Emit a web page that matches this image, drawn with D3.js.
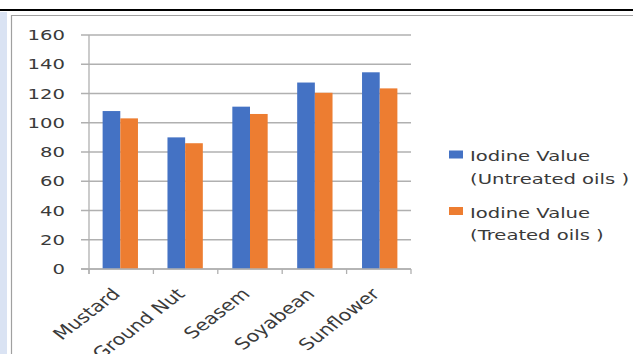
<!DOCTYPE html>
<html><head><meta charset="utf-8">
<script src="https://cdn.jsdelivr.net/npm/d3@7"></script>
<style>html,body{margin:0;padding:0;background:#fff;overflow:hidden}</style>
</head><body>
<script>
const categories = ["Mustard", "Ground Nut", "Seasem", "Soyabean", "Sunflower"];
const untreated = [108, 90, 111, 127.5, 134.5];
const treated = [103, 86, 106, 120.5, 123.5];
const yTicks = [0, 20, 40, 60, 80, 100, 120, 140, 160];
const seriesNames = [["Iodine Value", "(Untreated oils )"], ["Iodine Value", "(Treated oils )"]];
const colors = ["#4472C4", "#ED7D31"];

const W = 633, H = 354, SX = 1.4;
const svg = d3.select("body").append("svg").attr("width", W).attr("height", H);

// frame decorations
svg.append("rect").attr("x", 0).attr("y", 12).attr("width", 7).attr("height", H - 12).attr("fill", "#dae3f3");
svg.append("line").attr("x1", 0).attr("x2", W).attr("y1", 10).attr("y2", 10).attr("stroke", "#000").attr("stroke-width", 2.2);
svg.append("line").attr("x1", 11).attr("x2", W).attr("y1", 15.5).attr("y2", 15.5).attr("stroke", "#a0a0a0").attr("stroke-width", 1.2);
svg.append("line").attr("x1", 11.5).attr("x2", 11.5).attr("y1", 15).attr("y2", H).attr("stroke", "#a0a0a0").attr("stroke-width", 1.2);

const y = d3.scaleLinear().domain([0, 160]).range([269, 35]);
const x0 = d3.scaleBand().domain(categories).range([89, 411]).paddingInner(0.455).paddingOuter(0.21);
const x1 = d3.scaleBand().domain([0, 1]).range([0, x0.bandwidth()]).padding(0);

const textColor = "#3a3a3a";
const font = "DejaVu Sans, sans-serif";

// gridlines + y ticks
const g = svg.append("g");
g.selectAll("line.grid").data(yTicks).join("line")
  .attr("x1", 81).attr("x2", 411)
  .attr("y1", d => y(d)).attr("y2", d => y(d))
  .attr("stroke", "#b0b0b0").attr("stroke-width", 1.3);
// y axis line
g.append("line").attr("x1", 89).attr("x2", 89).attr("y1", y(160)).attr("y2", y(0) + 5)
  .attr("stroke", "#b0b0b0").attr("stroke-width", 1.3);
// x ticks at band boundaries
const bounds = d3.range(categories.length + 1).map(i => 89 + i * (322 / categories.length));
g.selectAll("line.xt").data(bounds).join("line")
  .attr("x1", d => d).attr("x2", d => d).attr("y1", y(0)).attr("y2", y(0) + 5)
  .attr("stroke", "#b0b0b0").attr("stroke-width", 1.3);

g.selectAll("text.yl").data(yTicks).join("text")
  .attr("transform", d => `translate(65,${y(d) + 5}) scale(${SX},1)`)
  .attr("text-anchor", "end").attr("font-family", font).attr("font-size", 14)
  .attr("fill", textColor).text(d => d);

// bars
const data = categories.map((c, i) => ({c, vals: [untreated[i], treated[i]]}));
const grp = svg.selectAll("g.cat").data(data).join("g").attr("transform", d => `translate(${x0(d.c)},0)`);
grp.selectAll("rect").data(d => d.vals.map((v, k) => ({v, k}))).join("rect")
  .attr("x", d => x1(d.k)).attr("width", x1.bandwidth())
  .attr("y", d => y(d.v)).attr("height", d => y(0) - y(d.v))
  .attr("fill", d => colors[d.k]);
// re-draw baseline on top
svg.append("line").attr("x1", 81).attr("x2", 411).attr("y1", y(0)).attr("y2", y(0))
  .attr("stroke", "#b0b0b0").attr("stroke-width", 1.3);

// x labels
svg.selectAll("text.xl").data(categories).join("text")
  .attr("transform", d => `translate(${x0(d) + x0.bandwidth() / 2 + 1},${295}) scale(1.3,1) rotate(-45)`)
  .attr("text-anchor", "end").attr("font-family", font).attr("font-size", 16)
  .attr("fill", textColor).text(d => d);

// legend
const lg = svg.append("g");
const legY = [150.5, 207];
seriesNames.forEach((lines, k) => {
  lg.append("rect").attr("x", 449).attr("y", legY[k]).attr("width", 14).attr("height", 8).attr("fill", colors[k]);
  lines.forEach((t, j) => {
    lg.append("text").attr("transform", `translate(470,${legY[k] + 10.5 + j * 22.5}) scale(${SX},1)`)
      .attr("font-family", font).attr("font-size", 14).attr("fill", textColor).text(t);
  });
});
</script>
</body></html>
